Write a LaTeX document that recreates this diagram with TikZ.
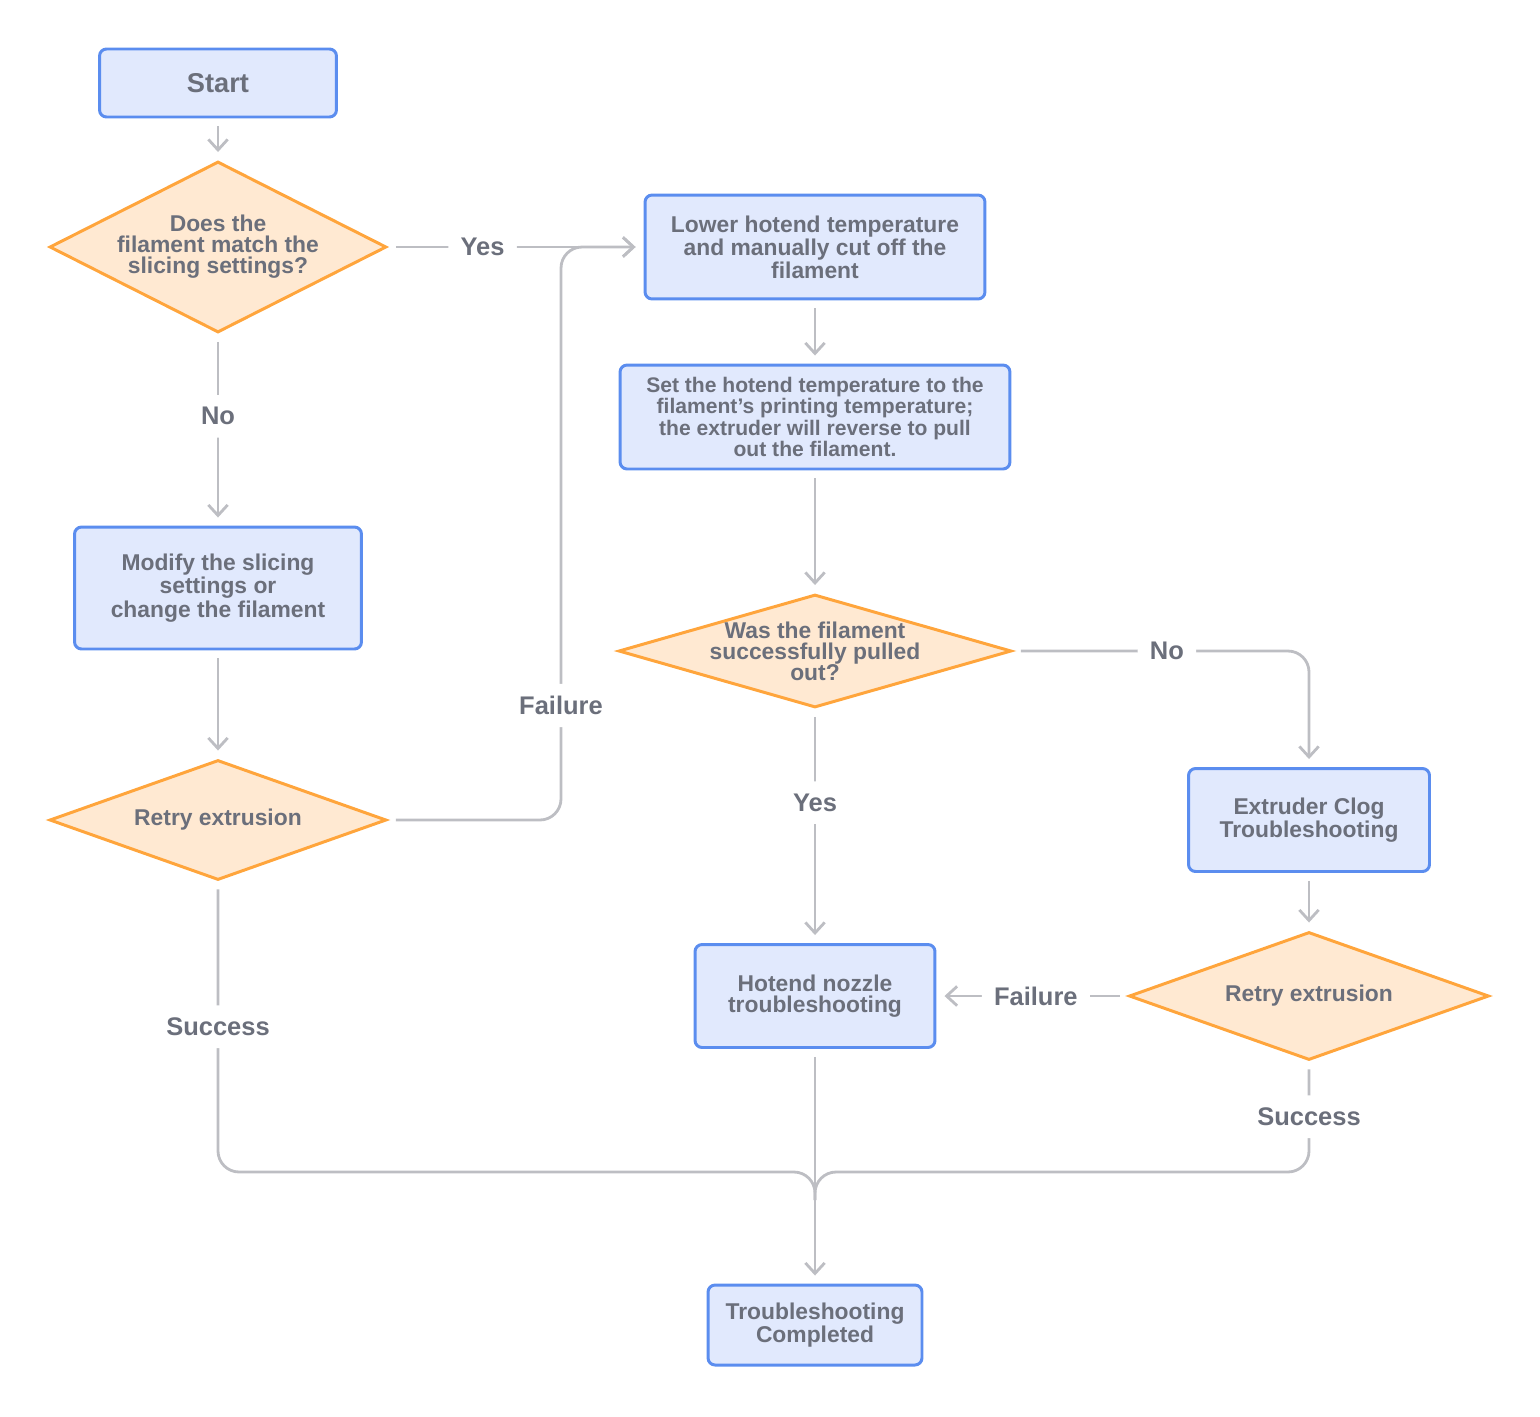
\documentclass[tikz,border=0pt]{standalone}
\usepackage{fontspec}
\setmainfont{Liberation Sans}
\usetikzlibrary{shapes.geometric,arrows.meta}
\definecolor{boxfill}{HTML}{E1E9FD}
\definecolor{boxline}{HTML}{5B8DEF}
\definecolor{dfill}{HTML}{FFE9D2}
\definecolor{dline}{HTML}{FFA53C}
\definecolor{txt}{HTML}{6B6F7B}
\definecolor{conn}{HTML}{BDBEC3}
\begin{document}
\begin{tikzpicture}[x=0.02cm, y=-0.02cm,
                    main node/.style={rectangle,rounded corners=4pt,draw=boxline,fill=boxfill,line width=1.7pt,
                      text=txt,align=center,font=\bfseries\fontsize{13}{12}\selectfont},
                    test node/.style={diamond,draw=dline,fill=dfill,line width=1.7pt,inner sep=0pt},
                    test text/.style={text=txt,align=center,font=\bfseries\fontsize{13}{12}\selectfont},
                    link/.style={draw=conn,line width=1.6pt,rounded corners=12pt,
                      shorten <=0.16cm,shorten >=0.16cm},
                    go/.style={link,-{Straight Barb[length=6pt,width=11pt,line width=1.6pt]}},
                    tag/.style={fill=white,text=txt,inner sep=7pt,font=\bfseries\fontsize{14.5}{14}\selectfont}]
  \useasboundingbox (0,0) rectangle (1540,1416);

  \node[main node,minimum width=4.74cm,minimum height=1.36cm,font=\bfseries\fontsize{15.5}{15}\selectfont] (start) at (218,83) {Start};
  \node[test node,minimum width=6.74cm,minimum height=3.42cm,
        label={[test text]center:Does the\\filament match the\\slicing settings?}] (match) at (218,247) {};
  \node[main node,minimum width=6.8cm,minimum height=2.08cm] (lower) at (815,247) {Lower hotend temperature\\and manually cut off the\\filament};
  \node[main node,minimum width=7.8cm,minimum height=2.08cm,font=\bfseries\fontsize{12}{10.8}\selectfont] (heat) at (815,417) {Set the hotend temperature to the\\filament's printing temperature;\\the extruder will reverse to pull\\out the filament.};
  \node[test node,minimum width=7.86cm,minimum height=2.26cm,
        label={[test text]center:Was the filament\\successfully pulled\\out?}] (pulled) at (815,651) {};
  \node[main node,minimum width=5.74cm,minimum height=2.44cm] (modify) at (218,588) {Modify the slicing\\settings or\\change the filament};
  \node[test node,minimum width=6.74cm,minimum height=2.4cm,
        label={[test text]center:Retry extrusion}] (retry1) at (218,820) {};
  \node[main node,minimum width=4.82cm,minimum height=2.06cm] (clog) at (1309,820) {Extruder Clog\\Troubleshooting};
  \node[test node,minimum width=7.2cm,minimum height=2.56cm,
        label={[test text]center:Retry extrusion}] (retry2) at (1309,996) {};
  \node[main node,minimum width=4.8cm,minimum height=2.06cm] (nozzle) at (815,996) {Hotend nozzle\\troubleshooting};
  \node[main node,minimum width=4.28cm,minimum height=1.6cm] (done) at (815,1325) {Troubleshooting\\Completed};

  \draw[go] (start) -- (match);
  \draw[go] (match) -- node[tag,pos=0.37] {Yes} (lower);
  \draw[go] (match) -- node[tag,pos=0.43] {No} (modify);
  \draw[go] (modify) -- (retry1);
  \draw[go] (retry1.east) -- (561,820) -- node[tag,pos=0.2] {Failure} (561,247) -- (lower.west);
  \draw[go] (lower) -- (heat);
  \draw[go] (heat) -- (pulled);
  \draw[go] (pulled.east) -- node[tag,pos=0.52] {No} (1309,651) -- (clog.north);
  \draw[go] (pulled) -- node[tag,pos=0.4] {Yes} (nozzle);
  \draw[go] (clog) -- (retry2);
  \draw[go] (retry2.west) -- node[tag,pos=0.48] {Failure} (nozzle.east);
  \draw[link,shorten >=0pt] (retry1.south) -- node[tag,pos=0.5] {Success} (218,1172) -- (815,1172) -- (815,1200);
  \draw[link,shorten >=0pt] (retry2.south) -- node[tag,pos=0.5] {Success} (1309,1172) -- (815,1172) -- (815,1200);
  \draw[go] (nozzle) -- (done);
\end{tikzpicture}
\end{document}
